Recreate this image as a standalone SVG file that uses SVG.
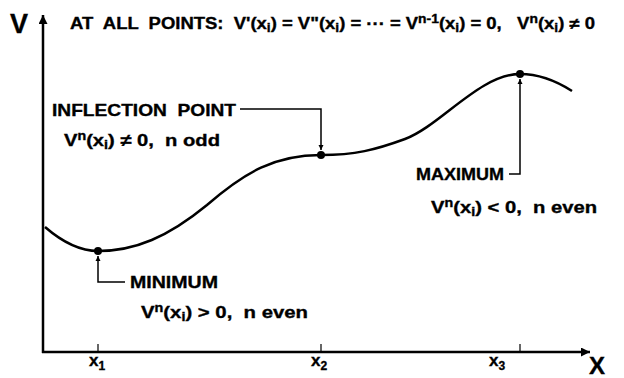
<svg xmlns="http://www.w3.org/2000/svg" width="624" height="378" viewBox="0 0 624 378">
<defs>
<marker id="ah" viewBox="0 0 10 10" refX="10" refY="5" markerWidth="5" markerHeight="8" orient="auto" markerUnits="userSpaceOnUse"><path d="M0,0 L10,5 L0,10 z" fill="#000"/></marker>
<marker id="axh" viewBox="0 0 10 10" refX="10" refY="5" markerWidth="15" markerHeight="9" orient="auto" markerUnits="userSpaceOnUse"><path d="M0,0 L10,5 L0,10 z" fill="#000"/></marker>
</defs>
<style>
text{font-family:"Liberation Sans",Arial,Helvetica,sans-serif;font-weight:bold;fill:#000;stroke:#000;stroke-width:0.35;white-space:pre}
.t{font-size:16px}
.l{font-size:17px}
.sub{font-size:12px}
.axis{stroke:#000;stroke-width:2.5;fill:none}
.lead{stroke:#000;stroke-width:1.5;fill:none}
.tick{stroke:#000;stroke-width:1.2;fill:none}
.curve{stroke:#000;stroke-width:2.5;fill:none}
</style>
<rect width="624" height="378" fill="#fff"/>
<g id="axes">
<line class="axis" x1="43" y1="353" x2="43" y2="15" marker-end="url(#axh)"/>
<line class="axis" x1="42" y1="352" x2="590" y2="352" marker-end="url(#axh)"/>
<line class="tick" x1="98" y1="344" x2="98" y2="352"/>
<line class="tick" x1="321" y1="344" x2="321" y2="352"/>
<line class="tick" x1="520" y1="344" x2="520" y2="352"/>
<text x="10" y="33" style="font-size:27px">V</text>
<text x="589" y="374" style="font-size:24px">X</text>
<text x="89" y="366" class="l">x<tspan class="sub" dy="4">1</tspan></text>
<text x="311" y="366" class="l">x<tspan class="sub" dy="4">2</tspan></text>
<text x="489" y="366" class="l">x<tspan class="sub" dy="4">3</tspan></text>
</g>
<g id="header">
<text x="70" y="29" class="t" textLength="525" lengthAdjust="spacingAndGlyphs">AT  ALL  POINTS:  V'(x<tspan class="sub" dy="3">i</tspan><tspan dy="-3">) = V"(x</tspan><tspan class="sub" dy="3">i</tspan><tspan dy="-3">) = ··· = V</tspan><tspan class="sub" dy="-6">n-1</tspan><tspan dy="6">(x</tspan><tspan class="sub" dy="3">i</tspan><tspan dy="-3">) = 0,   V</tspan><tspan class="sub" dy="-6">n</tspan><tspan dy="6">(x</tspan><tspan class="sub" dy="3">i</tspan><tspan dy="-3">) ≠ 0</tspan></text>
</g>
<g id="curve">
<path class="curve" d="M45,227 C60,240 78,251 98,251 C135,251 168,237 207,205 C245,172 275,155 321,155 C355,155 375,150 405,139 C440,126 480,74 520,74 C540,74 558,82 572,91"/>
</g>
<g id="minimum">
<circle cx="98" cy="251" r="4"/>
<text x="130" y="288" class="l" textLength="88" lengthAdjust="spacingAndGlyphs">MINIMUM</text>
<text x="141" y="318" class="l" textLength="167" lengthAdjust="spacingAndGlyphs">V<tspan class="sub" dy="-6">n</tspan><tspan dy="6">(x</tspan><tspan class="sub" dy="3">i</tspan><tspan dy="-3">) &gt; 0,  n even</tspan></text>
</g>
<g id="inflection">
<circle cx="321" cy="155" r="4"/>
<text x="52" y="116" class="l" textLength="184" lengthAdjust="spacingAndGlyphs">INFLECTION  POINT</text>
<text x="64" y="146" class="l" textLength="156" lengthAdjust="spacingAndGlyphs">V<tspan class="sub" dy="-6">n</tspan><tspan dy="6">(x</tspan><tspan class="sub" dy="3">i</tspan><tspan dy="-3">) ≠ 0,  n odd</tspan></text>
</g>
<g id="maximum">
<circle cx="520" cy="74" r="4"/>
<text x="416" y="180" class="l" textLength="88" lengthAdjust="spacingAndGlyphs">MAXIMUM</text>
<text x="431" y="213" class="l" textLength="166" lengthAdjust="spacingAndGlyphs">V<tspan class="sub" dy="-6">n</tspan><tspan dy="6">(x</tspan><tspan class="sub" dy="3">i</tspan><tspan dy="-3">) &lt; 0,  n even</tspan></text>
</g>
<g id="connectors">
<polyline class="lead" points="125,282 98,282 98,256" marker-end="url(#ah)"/>
<polyline class="lead" points="240,109 321,109 321,150" marker-end="url(#ah)"/>
<polyline class="lead" points="509,174 520,174 520,79" marker-end="url(#ah)"/>
</g>
</svg>
